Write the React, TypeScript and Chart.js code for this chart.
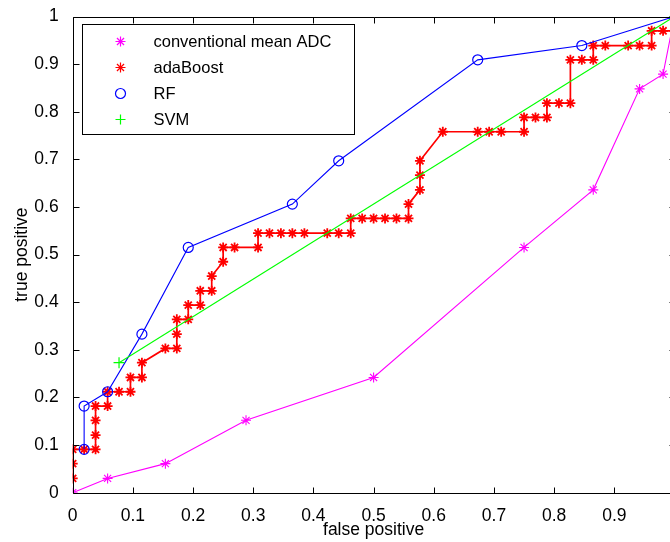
import React, { useEffect, useRef } from 'react';
import { Chart, registerables } from 'chart.js';

Chart.register(...registerables);

const FONT = '"Liberation Sans", Arial, Helvetica, sans-serif';

// ---- data ----
const seriesNames = ['conventional mean ADC', 'adaBoost', 'RF', 'SVM'];
const seriesColors = ['#ff00ff', '#ff0000', '#0000ff', '#00ff00'];
const seriesMarkers = ['star', 'star', 'circle', 'cross'];

const adcFP = [0, 0.058, 0.154, 0.288, 0.5, 0.75, 0.865, 0.942, 0.981, 1];
const adcTP = [0, 0.030, 0.061, 0.152, 0.242, 0.515, 0.636, 0.848, 0.879, 1];

const adaFP = [
  0, 0, 0, 0.019, 0.038, 0.038, 0.038, 0.038, 0.058, 0.058, 0.077, 0.096, 0.096, 0.115, 0.115,
  0.154, 0.173, 0.173, 0.173, 0.192, 0.192, 0.212, 0.212, 0.231, 0.231, 0.25, 0.25, 0.269, 0.308,
  0.308, 0.327, 0.346, 0.365, 0.385, 0.423, 0.442, 0.462, 0.462, 0.481, 0.5, 0.519, 0.538, 0.558,
  0.558, 0.577, 0.577, 0.577, 0.615, 0.673, 0.692, 0.712, 0.75, 0.75, 0.769, 0.788, 0.788, 0.808,
  0.827, 0.827, 0.846, 0.865, 0.865, 0.885, 0.923, 0.942, 0.962, 0.962, 0.981, 1, 1,
];
const adaTP = [
  0.030, 0.061, 0.091, 0.091, 0.091, 0.121, 0.152, 0.182, 0.182, 0.212, 0.212, 0.212, 0.242, 0.242, 0.273,
  0.303, 0.303, 0.333, 0.364, 0.364, 0.394, 0.394, 0.424, 0.424, 0.455, 0.485, 0.515, 0.515, 0.515,
  0.545, 0.545, 0.545, 0.545, 0.545, 0.545, 0.545, 0.545, 0.576, 0.576, 0.576, 0.576, 0.576, 0.576,
  0.606, 0.636, 0.667, 0.697, 0.758, 0.758, 0.758, 0.758, 0.758, 0.788, 0.788, 0.788, 0.818, 0.818,
  0.818, 0.909, 0.909, 0.909, 0.939, 0.939, 0.939, 0.939, 0.939, 0.970, 0.970, 0.970, 1,
];

const rfFP = [0.019, 0.019, 0.058, 0.115, 0.192, 0.365, 0.442, 0.673, 0.846, 1];
const rfTP = [0.091, 0.182, 0.212, 0.333, 0.515, 0.606, 0.697, 0.909, 0.939, 1];

const svmFP = [0.077, 1];
const svmTP = [0.273, 1];

const axisTicks = [0, 0.1, 0.2, 0.3, 0.4, 0.5, 0.6, 0.7, 0.8, 0.9, 1];
const xTitle = 'false positive';
const yTitle = 'true positive';

const toPoints = (xs: number[], ys: number[]) => xs.map((x, i) => ({ x, y: ys[i] }));
const fmt = (v: number) => String(Math.round(v * 10) / 10);

function drawMarker(ctx: CanvasRenderingContext2D, style: string, x: number, y: number, r: number, color: string, lw: number) {
  ctx.save();
  ctx.strokeStyle = color;
  ctx.lineWidth = lw;
  ctx.beginPath();
  if (style === 'circle') {
    ctx.arc(x, y, r, 0, Math.PI * 2);
  } else {
    ctx.moveTo(x - r, y); ctx.lineTo(x + r, y);
    ctx.moveTo(x, y - r); ctx.lineTo(x, y + r);
    if (style === 'star') {
      const d = r * Math.SQRT1_2;
      ctx.moveTo(x - d, y - d); ctx.lineTo(x + d, y + d);
      ctx.moveTo(x - d, y + d); ctx.lineTo(x + d, y - d);
    }
  }
  ctx.stroke();
  ctx.restore();
}

const framePlugin = {
  id: 'matlabFrame',
  afterDatasetsDraw(chart: any) {
    const { ctx, chartArea: a, scales } = chart;
    const L = Math.round(a.left) + 0.5, R = Math.round(a.right) + 0.5;
    const T = Math.round(a.top) + 0.5, B = Math.round(a.bottom) + 0.5;
    ctx.save();
    ctx.strokeStyle = '#000';
    ctx.lineWidth = 1;
    ctx.beginPath();
    ctx.rect(L, T, R - L, B - T);
    const tl = 6;
    axisTicks.forEach((v) => {
      const px = Math.round(scales.x.getPixelForValue(v)) + 0.5;
      ctx.moveTo(px, B); ctx.lineTo(px, B - tl);
      ctx.moveTo(px, T); ctx.lineTo(px, T + tl);
      const py = Math.round(scales.y.getPixelForValue(v)) + 0.5;
      ctx.moveTo(L, py); ctx.lineTo(L + tl, py);
      ctx.moveTo(R, py); ctx.lineTo(R - tl, py);
    });
    ctx.stroke();
    ctx.restore();
  },
  afterDraw(chart: any) {
    const { ctx, chartArea: a } = chart;
    const bx = Math.round(a.left + 9) + 0.5;
    const by = Math.round(a.top + 7) + 0.5;
    const bw = 272, bh = 110;
    ctx.save();
    ctx.fillStyle = '#fff';
    ctx.fillRect(bx, by, bw, bh);
    ctx.strokeStyle = '#000';
    ctx.lineWidth = 1;
    ctx.strokeRect(bx, by, bw, bh);
    ctx.font = `16.5px ${FONT}`;
    ctx.textBaseline = 'middle';
    ctx.fillStyle = '#000';
    chart.data.datasets.forEach((ds: any, i: number) => {
      const ry = by + 17 + i * 26;
      drawMarker(ctx, seriesMarkers[i], bx + 38, ry, 5, seriesColors[i], 1.2);
      ctx.fillText(ds.label, bx + 71, ry + 1);
    });
    ctx.restore();
  },
};

export default function App() {
  const ref = useRef<HTMLCanvasElement>(null);
  useEffect(() => {
    const mk = (i: number, xs: number[], ys: number[], extra: any) => ({
      label: seriesNames[i],
      data: toPoints(xs, ys),
      showLine: true,
      borderColor: seriesColors[i],
      backgroundColor: 'rgba(0,0,0,0)',
      pointBorderColor: seriesColors[i],
      pointBackgroundColor: 'rgba(0,0,0,0)',
      pointStyle: seriesMarkers[i],
      tension: 0,
      ...extra,
    });
    const chart = new Chart(ref.current as HTMLCanvasElement, {
      type: 'scatter',
      data: {
        datasets: [
          mk(0, adcFP, adcTP, { borderWidth: 1.1, pointRadius: 5, pointBorderWidth: 1.1, order: 4 }),
          mk(1, adaFP, adaTP, { borderWidth: 1.7, pointRadius: 5, pointBorderWidth: 1.8, order: 3 }),
          mk(2, rfFP, rfTP, { borderWidth: 1.1, pointRadius: 5, pointBorderWidth: 1.2, order: 2 }),
          mk(3, svmFP, svmTP, { borderWidth: 1.1, pointRadius: 5.5, pointBorderWidth: 1.2, order: 1 }),
        ],
      } as any,
      options: {
        animation: false,
        responsive: false,
        maintainAspectRatio: false,
        layout: { padding: { top: 16, right: 15.5, left: 0, bottom: 0 } },
        plugins: { legend: { display: false }, tooltip: { enabled: false } },
        scales: {
          x: {
            type: 'linear',
            min: 0,
            max: 1,
            grid: { display: false },
            border: { display: false },
            afterBuildTicks: (s: any) => { s.ticks = axisTicks.map((v) => ({ value: v })); },
            afterFit: (s: any) => { s.height = 49.3; },
            ticks: {
              padding: 5,
              color: '#000',
              font: { family: FONT, size: 17.5 },
              maxRotation: 0,
              autoSkip: false,
              callback: (v: any) => fmt(Number(v)),
            },
            title: { display: true, text: xTitle, color: '#000', font: { family: FONT, size: 17.5 }, padding: { top: 0, bottom: 1 } },
          },
          y: {
            type: 'linear',
            min: 0,
            max: 1,
            grid: { display: false },
            border: { display: false },
            afterBuildTicks: (s: any) => { s.ticks = axisTicks.map((v) => ({ value: v })); },
            afterFit: (s: any) => { s.width = 72.7; },
            ticks: {
              padding: 6,
              color: '#000',
              font: { family: FONT, size: 17.5 },
              autoSkip: false,
              callback: (v: any) => fmt(Number(v)),
            },
            title: { display: true, text: yTitle, color: '#000', font: { family: FONT, size: 17.5 }, padding: { top: 12, bottom: 0 } },
          },
        },
      } as any,
      plugins: [framePlugin],
    });
    return () => chart.destroy();
  }, []);

  return (
    <div style={{ position: 'fixed', left: 0, top: 0, width: 670, height: 542, overflow: 'hidden', background: '#fff' }}>
      <canvas ref={ref} width={690} height={542} style={{ display: 'block', width: 690, height: 542 }} />
    </div>
  );
}
